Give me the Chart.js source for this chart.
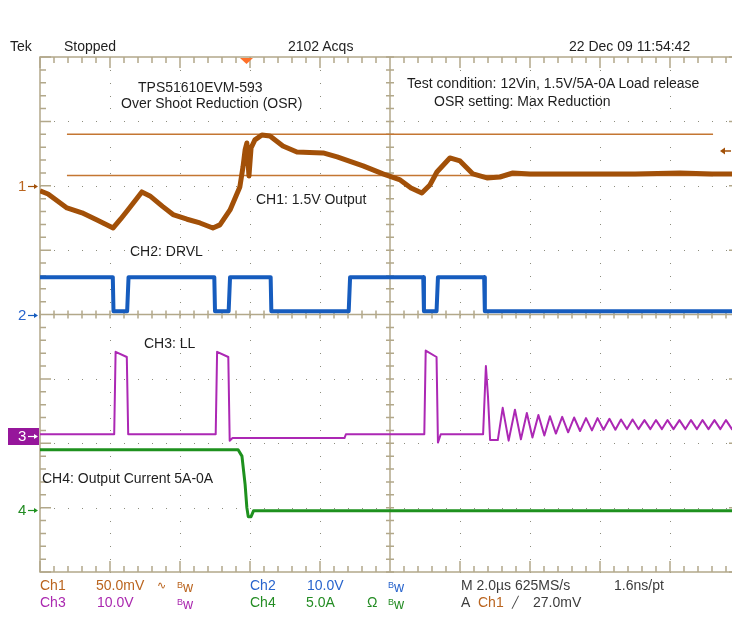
<!DOCTYPE html>
<html lang="en">
<head>
    <meta charset="UTF-8">
    <title>TPS51610EVM-593 Over Shoot Reduction</title>
    <script src="https://cdn.jsdelivr.net/npm/chart.js"></script>
    <style>
        html, body { margin: 0; padding: 0; overflow: hidden; background: #fff; }
        #scope { position: relative; width: 732px; height: 623px; overflow: hidden; }
        #scopeCanvas { position: absolute; left: 0; top: 0; }
        .t {
            position: absolute;
            font: 14px "Liberation Sans", Arial, sans-serif;
            line-height: 16px;
            color: #1e1e1e;
            white-space: nowrap;
        }
        .c1 { color: rgb(186, 100, 30); }
        .c2 { color: rgb(40, 100, 205); }
        .c3 { color: rgb(170, 40, 175); }
        .c4 { color: rgb(35, 140, 35); }
        .dk { color: #3c3c3c; }
        .bw-b { font-size: 9px; vertical-align: 4px; }
        .mk { font-size: 15px; }
    </style>
</head>
<body>
<div id="scope">
    <canvas id="scopeCanvas" width="760" height="623"></canvas>

    <!-- status line -->
    <div class="t" style="left:10px;top:38px">Tek</div>
    <div class="t" style="left:64px;top:38px">Stopped</div>
    <div class="t" style="left:288px;top:38px">2102 Acqs</div>
    <div class="t" style="left:569px;top:38px">22 Dec 09 11:54:42</div>

    <!-- screen notes -->
    <div class="t" style="left:138px;top:79px">TPS51610EVM-593</div>
    <div class="t" style="left:121px;top:95px">Over Shoot Reduction (OSR)</div>
    <div class="t" style="left:407px;top:75px">Test condition: 12Vin, 1.5V/5A-0A Load release</div>
    <div class="t" style="left:434px;top:93px">OSR setting: Max Reduction</div>
    <div class="t" style="left:256px;top:191px">CH1: 1.5V Output</div>
    <div class="t" style="left:130px;top:243px">CH2: DRVL</div>
    <div class="t" style="left:144px;top:335px">CH3: LL</div>
    <div class="t" style="left:42px;top:470px">CH4: Output Current 5A-0A</div>

    <!-- channel ground markers, placed from the y scale -->
    <div class="t mk c1" id="mk1">1</div>
    <div class="t mk c2" id="mk2">2</div>
    <div class="t mk" id="mk3" style="color:#fff">3</div>
    <div class="t mk c4" id="mk4">4</div>

    <!-- readout -->
    <div class="t c1" style="left:40px;top:577px">Ch1</div>
    <div class="t c1" style="left:96px;top:577px">50.0mV</div>
    <div class="t c1" style="left:157px;top:577px;font-size:11px">∿</div>
    <div class="t c1" style="left:177px;top:577px"><span class="bw-b">B</span>w</div>
    <div class="t c2" style="left:250px;top:577px">Ch2</div>
    <div class="t c2" style="left:307px;top:577px">10.0V</div>
    <div class="t c2" style="left:388px;top:577px"><span class="bw-b">B</span>w</div>
    <div class="t dk" style="left:461px;top:577px">M 2.0µs 625MS/s</div>
    <div class="t dk" style="left:614px;top:577px">1.6ns/pt</div>

    <div class="t c3" style="left:40px;top:594px">Ch3</div>
    <div class="t c3" style="left:97px;top:594px">10.0V</div>
    <div class="t c3" style="left:177px;top:594px"><span class="bw-b">B</span>w</div>
    <div class="t c4" style="left:250px;top:594px">Ch4</div>
    <div class="t c4" style="left:306px;top:594px">5.0A</div>
    <div class="t c4" style="left:367px;top:594px">Ω</div>
    <div class="t c4" style="left:388px;top:594px"><span class="bw-b">B</span>w</div>
    <div class="t dk" style="left:461px;top:594px">A</div>
    <div class="t c1" style="left:478px;top:594px">Ch1</div>
    <div class="t dk" style="left:512px;top:594px;font-size:11px">╱</div>
    <div class="t dk" style="left:533px;top:594px">27.0mV</div>
</div>

<script>
    // Horizontal: 2 us/div, 10 divisions. Vertical: 8 divisions.
    const timePerDiv = 2;
    const triggerTime = 5.9;      // us, trigger position mark
    const triggerLevel = 27.0;    // mV on Ch1

    // Ch1: 1.5V output, AC deviation in mV (50 mV/div)
    const ch1PerDiv = 50, ch1Offset = 2.0;
    const ch1Time = [0, 0.23, 0.77, 1.2, 1.63, 2.09, 2.3, 2.51, 2.91, 3.14,
        3.5, 3.8, 4.2, 4.57, 4.94, 5.14, 5.43, 5.71, 5.8, 5.86,
        5.91, 5.97, 6.03, 6.14, 6.34, 6.57, 6.94, 7.34, 7.7, 8.09,
        8.49, 8.9, 9.23, 9.8, 10.29, 10.6, 10.91, 11.14, 11.34, 11.71,
        12.0, 12.37, 12.77, 13.14, 13.51, 14.0, 14.86, 16.0, 17.0, 18.29,
        19.2, 20];
    const ch1Mv = [-4, -6.4, -17.2, -21, -26.6, -32.8, -26, -18.8, -4.8, -7.9,
        -16, -22.4, -26, -28.9, -32.8, -30.4, -18.8, -0.9, 14.6, 27.8,
        33.2, 7.6, 29.3, 35.6, 39.4, 38.7, 30.9, 26.2, 25.8, 25.5,
        22.4, 18.5, 15.4, 9.2, 4.5, -1.7, -5.6, 0.6, 10.7, 21.6,
        19.3, 9.2, 6.1, 6.8, 9.9, 9.2, 9.2, 9.2, 9.2, 9.9,
        9.2, 9.2];
    // Ch1 horizontal cursors (mV)
    const cursorLevels = [40, 8];
    const cursorSpan = [0.77, 19.23];

    // Ch2: DRVL (10 V/div)
    const ch2PerDiv = 10, ch2Offset = 0;
    const ch2Time = [0, 2.08, 2.1, 2.49, 2.53, 4.98, 5.0, 5.39, 5.43, 6.59,
        6.61, 8.82, 8.86, 10.95, 10.97, 11.33, 11.37, 12.69, 12.71, 20];
    const ch2Volts = [5.8, 5.8, 0.5, 0.5, 5.8, 5.8, 0.5, 0.5, 5.8, 5.8,
        0.5, 0.5, 5.8, 5.8, 0.5, 0.5, 5.8, 5.8, 0.5, 0.5];

    // Ch3: LL switch node (10 V/div)
    const ch3PerDiv = 10, ch3Offset = -1.88;
    const ch3Time = [0, 2.12, 2.16, 2.48, 2.52, 5.02, 5.06, 5.38, 5.42, 5.5,
        8.7, 8.74, 10.98, 11.02, 11.33, 11.37, 11.45, 12.66, 12.74, 12.8,
        12.86, 13.08,
        13.22, 13.39, 13.57, 13.74, 13.91, 14.07, 14.24, 14.41, 14.57, 14.74,
        14.92, 15.09, 15.26, 15.43, 15.6, 15.77, 15.93, 16.1, 16.27, 16.44,
        16.6, 16.77, 16.93, 17.1, 17.27, 17.44, 17.6, 17.77, 17.93, 18.1,
        18.27, 18.44, 18.6, 18.77, 18.93, 19.1, 19.27, 19.44, 19.6, 19.77,
        20];
    const ch3Volts = [0.2, 0.2, 13.0, 12.2, 0.2, 0.2, 13.0, 12.2, -0.8, -0.4,
        -0.4, 0.2, 0.2, 13.2, 12.2, -1.1, 0.2, 0.2, 10.8, 6.0,
        -0.7, -0.7,
        4.3, -0.8, 4.0, -0.6, 3.5, -0.3, 3.2, 0.0, 3.0, 0.3,
        2.9, 0.5, 2.8, 0.7, 2.7, 0.8, 2.7, 0.9, 2.6, 0.9,
        2.5, 1.0, 2.5, 1.0, 2.4, 1.0, 2.4, 1.0, 2.4, 1.0,
        2.4, 1.0, 2.4, 1.0, 2.4, 1.0, 2.4, 1.0, 2.4, 1.0,
        2.0];

    // Ch4: output current (5 A/div)
    const ch4PerDiv = 5, ch4Offset = -3.04;
    const ch4Time = [0, 5.66, 5.77, 5.86, 5.91, 5.95, 6.03, 6.1, 20];
    const ch4Amps = [4.7, 4.7, 4.2, 2.0, 0.2, -0.5, -0.5, -0.05, -0.05];

    const colors = {
        ch1: 'rgb(162, 80, 8)',
        cursor: 'rgb(196, 118, 50)',
        ch2: 'rgb(22, 92, 190)',
        ch3: 'rgb(172, 40, 180)',
        ch4: 'rgb(30, 145, 30)',
        frame: 'rgb(178, 168, 138)',
        dots: 'rgb(140, 140, 125)',
        trigger: 'rgb(255, 112, 40)'
    };

    // scale a channel's values into screen divisions
    function toPoints(times, values, perDiv, offset) {
        return times.map((t, i) => ({ x: t, y: offset + values[i] / perDiv }));
    }

    function trace(label, points, color, width) {
        return {
            label: label,
            data: points,
            borderColor: color,
            borderWidth: width,
            borderJoinStyle: 'round',
            borderCapStyle: 'butt',
            pointRadius: 0,
            tension: 0,
            fill: false
        };
    }

    const datasets = [
        trace('Ch1', toPoints(ch1Time, ch1Mv, ch1PerDiv, ch1Offset), colors.ch1, 5),
        trace('Ch2', toPoints(ch2Time, ch2Volts, ch2PerDiv, ch2Offset), colors.ch2, 4),
        trace('Ch3', toPoints(ch3Time, ch3Volts, ch3PerDiv, ch3Offset), colors.ch3, 2),
        trace('Ch4', toPoints(ch4Time, ch4Amps, ch4PerDiv, ch4Offset), colors.ch4, 3)
    ];
    cursorLevels.forEach((mv, i) => {
        datasets.push(trace('Cursor ' + (i + 1),
            toPoints(cursorSpan, [mv, mv], ch1PerDiv, ch1Offset), colors.cursor, 1.5));
    });

    // scope graticule: frame, dotted divisions, centre cross and edge ticks
    const graticule = {
        id: 'graticule',
        beforeDatasetsDraw(chart) {
            const { ctx, chartArea: a, scales: { x, y } } = chart;
            ctx.save();
            ctx.fillStyle = colors.dots;
            for (let d = 1; d < 10; d++) {
                if (d === 5) continue;
                const px = Math.round(x.getPixelForValue(d * timePerDiv));
                for (let m = 0; m <= 40; m++) {
                    ctx.fillRect(px, Math.round(y.getPixelForValue(-4 + m * 0.2)), 1, 1);
                }
            }
            for (let d = -3; d <= 3; d++) {
                if (d === 0) continue;
                const py = Math.round(y.getPixelForValue(d));
                for (let m = 0; m <= 50; m++) {
                    ctx.fillRect(Math.round(x.getPixelForValue(m * timePerDiv / 5)), py, 1, 1);
                }
            }

            ctx.strokeStyle = colors.frame;
            ctx.lineWidth = 1.5;
            ctx.strokeRect(a.left, a.top, a.width, a.height);

            const cx = x.getPixelForValue(5 * timePerDiv);
            const cy = y.getPixelForValue(0);
            ctx.beginPath();
            ctx.moveTo(cx, a.top); ctx.lineTo(cx, a.bottom);
            ctx.moveTo(a.left, cy); ctx.lineTo(a.right, cy);

            // ticks along x at every fifth of a division
            for (let m = 0; m <= 50; m++) {
                const px = x.getPixelForValue(m * timePerDiv / 5);
                const len = m % 5 === 0 ? 11 : 6;
                ctx.moveTo(px, cy - 4); ctx.lineTo(px, cy + 4);
                ctx.moveTo(px, a.top); ctx.lineTo(px, a.top + len);
                ctx.moveTo(px, a.bottom); ctx.lineTo(px, a.bottom - len);
            }
            // ticks along y
            for (let m = 0; m <= 40; m++) {
                const py = y.getPixelForValue(-4 + m * 0.2);
                const len = m % 5 === 0 ? 11 : 6;
                ctx.moveTo(cx - 4, py); ctx.lineTo(cx + 4, py);
                ctx.moveTo(a.left, py); ctx.lineTo(a.left + len, py);
                ctx.moveTo(a.right, py); ctx.lineTo(a.right - len, py);
            }
            ctx.stroke();
            ctx.restore();
        }
    };

    function arrowRight(ctx, x0, x1, py, color) {
        ctx.strokeStyle = color;
        ctx.fillStyle = color;
        ctx.lineWidth = 1.2;
        ctx.beginPath();
        ctx.moveTo(x0, py); ctx.lineTo(x1 - 3, py);
        ctx.stroke();
        ctx.beginPath();
        ctx.moveTo(x1, py); ctx.lineTo(x1 - 4, py - 2.5); ctx.lineTo(x1 - 4, py + 2.5);
        ctx.closePath();
        ctx.fill();
    }

    // trigger position, trigger level and channel ground markers
    const markers = {
        id: 'markers',
        afterDraw(chart) {
            const { ctx, chartArea: a, scales: { x, y } } = chart;
            ctx.save();
            const tx = x.getPixelForValue(triggerTime);
            ctx.fillStyle = colors.trigger;
            ctx.beginPath();
            ctx.moveTo(tx - 6.5, a.top + 1);
            ctx.lineTo(tx + 6.5, a.top + 1);
            ctx.lineTo(tx, a.top + 7);
            ctx.closePath();
            ctx.fill();

            const ty = y.getPixelForValue(ch1Offset + triggerLevel / ch1PerDiv);
            ctx.strokeStyle = colors.ch1;
            ctx.fillStyle = colors.ch1;
            ctx.lineWidth = 1.5;
            ctx.beginPath();
            ctx.moveTo(731, ty); ctx.lineTo(724, ty);
            ctx.stroke();
            ctx.beginPath();
            ctx.moveTo(720, ty); ctx.lineTo(725, ty - 3.5); ctx.lineTo(725, ty + 3.5);
            ctx.closePath();
            ctx.fill();

            const ground = [
                [ch1Offset, colors.ch1], [ch2Offset, colors.ch2],
                [ch3Offset, '#fff'], [ch4Offset, colors.ch4]
            ];
            const y3 = y.getPixelForValue(ch3Offset);
            ctx.fillStyle = 'rgb(150, 22, 155)';
            ctx.fillRect(8, Math.round(y3) - 8, 31, 17);
            ground.forEach(([off, col]) => {
                arrowRight(ctx, 28, 38, Math.round(y.getPixelForValue(off)) + 0.5, col);
            });
            ctx.restore();
        }
    };

    const chart = new Chart(document.getElementById('scopeCanvas'), {
        type: 'line',
        data: { datasets: datasets },
        options: {
            responsive: false,
            animation: false,
            layout: { padding: { left: 40, right: 20, top: 57, bottom: 51 } },
            scales: {
                x: { type: 'linear', min: 0, max: 10 * timePerDiv, display: false },
                y: { type: 'linear', min: -4, max: 4, display: false }
            },
            plugins: {
                legend: { display: false },
                tooltip: { enabled: false }
            }
        },
        plugins: [graticule, markers]
    });

    // place the channel numbers beside their ground arrows
    [[1, ch1Offset], [2, ch2Offset], [3, ch3Offset], [4, ch4Offset]].forEach(([n, off]) => {
        const el = document.getElementById('mk' + n);
        el.style.left = '18px';
        el.style.top = (chart.scales.y.getPixelForValue(off) - 8) + 'px';
    });
</script>
</body>
</html>
